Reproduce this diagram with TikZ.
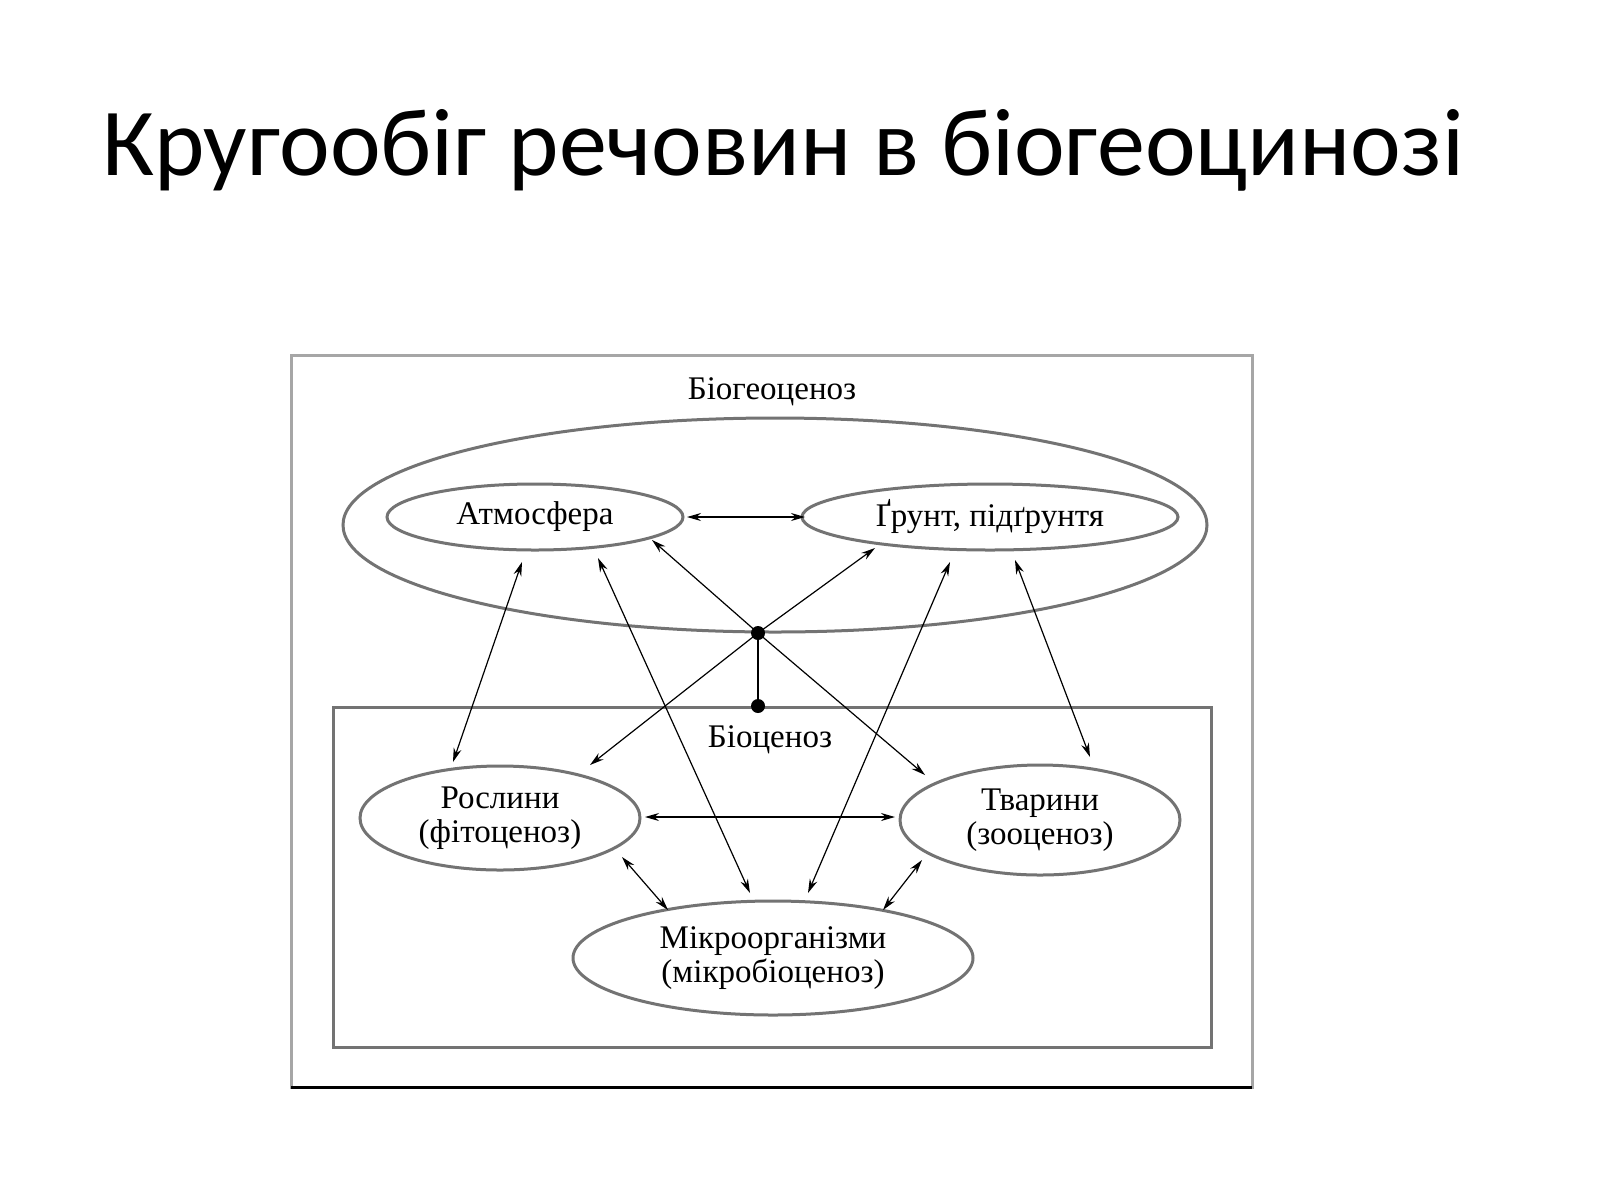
\documentclass[tikz,border=0pt]{standalone}
\usepackage{fontspec}
\setmainfont{Liberation Serif}
\newfontfamily\titlefont{Carlito}
\usetikzlibrary{shapes.geometric,arrows.meta}
\begin{document}
\begin{tikzpicture}[x=1pt,y=-1pt,
  ell/.style={draw=gray!90!black,line width=3pt,ellipse,inner sep=0pt,align=center,font=\fontsize{33}{34}\selectfont},
  arr/.style={line width=1.2pt,{Stealth[length=14pt,width=8pt]}-{Stealth[length=14pt,width=8pt]}},
  arrone/.style={line width=1.2pt,-{Stealth[length=14pt,width=8pt]}},
  dotn/.style={circle,fill=black,inner sep=0pt,minimum size=14pt}]
\useasboundingbox (0,0) rectangle (1600,1200);
\fill[white] (0,0) rectangle (1600,1200);
\node[font=\titlefont\fontsize{96}{100}\selectfont] (title) at (783,150) {Кругообіг речовин в біогеоцинозі};
\draw[gray!70,line width=3pt] (291,355) rectangle (1252,1087);
\draw[black,line width=3pt] (291,1087) -- (1252,1087);
\node[font=\fontsize{33}{34}\selectfont] (bgc) at (772,392) {Біогеоценоз};
\node[ell,minimum width=864pt,minimum height=214pt] (big) at (775,525) {};
\node[ell,minimum width=296pt,minimum height=66pt] (atm) at (535,517) {Атмосфера};
\node[ell,minimum width=376pt,minimum height=66pt] (gr) at (990,517) {Ґрунт, підґрунтя};
\draw[gray!90!black,line width=3pt] (333,707) rectangle (1211,1047);
\node[font=\fontsize{33}{34}\selectfont] (bc) at (770,740) {Біоценоз};
\node[ell,minimum width=280pt,minimum height=104pt] (ros) at (500,818) {Рослини\\(фітоценоз)};
\node[ell,minimum width=280pt,minimum height=110pt] (tv) at (1040,820) {Тварини\\(зооценоз)};
\node[ell,minimum width=400pt,minimum height=114pt] (mik) at (773,958) {Мікроорганізми\\(мікробіоценоз)};
\node[dotn] (d1) at (758,633) {};
\node[dotn] (d2) at (758,706) {};
\draw[line width=2pt] (d1) -- (d2);
\coordinate (a1) at (652,540); \coordinate (g1) at (875,548);
\coordinate (r1) at (590,765); \coordinate (t1) at (925,775);
\draw[arrone] (d1.center) -- (a1);
\draw[arrone] (d1.center) -- (g1);
\draw[arrone] (d1.center) -- (r1);
\draw[arrone] (d1.center) -- (t1);
\coordinate (a2) at (522,562); \coordinate (r2) at (453,762);
\coordinate (a3) at (598,558); \coordinate (m1) at (750,893);
\coordinate (g2) at (950,562); \coordinate (m2) at (808,893);
\coordinate (g3) at (1015,560); \coordinate (t2) at (1090,757);
\coordinate (a4) at (687,517); \coordinate (g4) at (805,517);
\coordinate (r3) at (645,817); \coordinate (t3) at (895,817);
\coordinate (r4) at (622,857); \coordinate (m3) at (668,910);
\coordinate (t4) at (922,860); \coordinate (m4) at (883,910);
\draw[arr] (a2) -- (r2);
\draw[arr] (a3) -- (m1);
\draw[arr] (g2) -- (m2);
\draw[arr] (g3) -- (t2);
\draw[arr] (a4) -- (g4);
\draw[arr] (r3) -- (t3);
\draw[arr] (r4) -- (m3);
\draw[arr] (t4) -- (m4);
\end{tikzpicture}
\end{document}
